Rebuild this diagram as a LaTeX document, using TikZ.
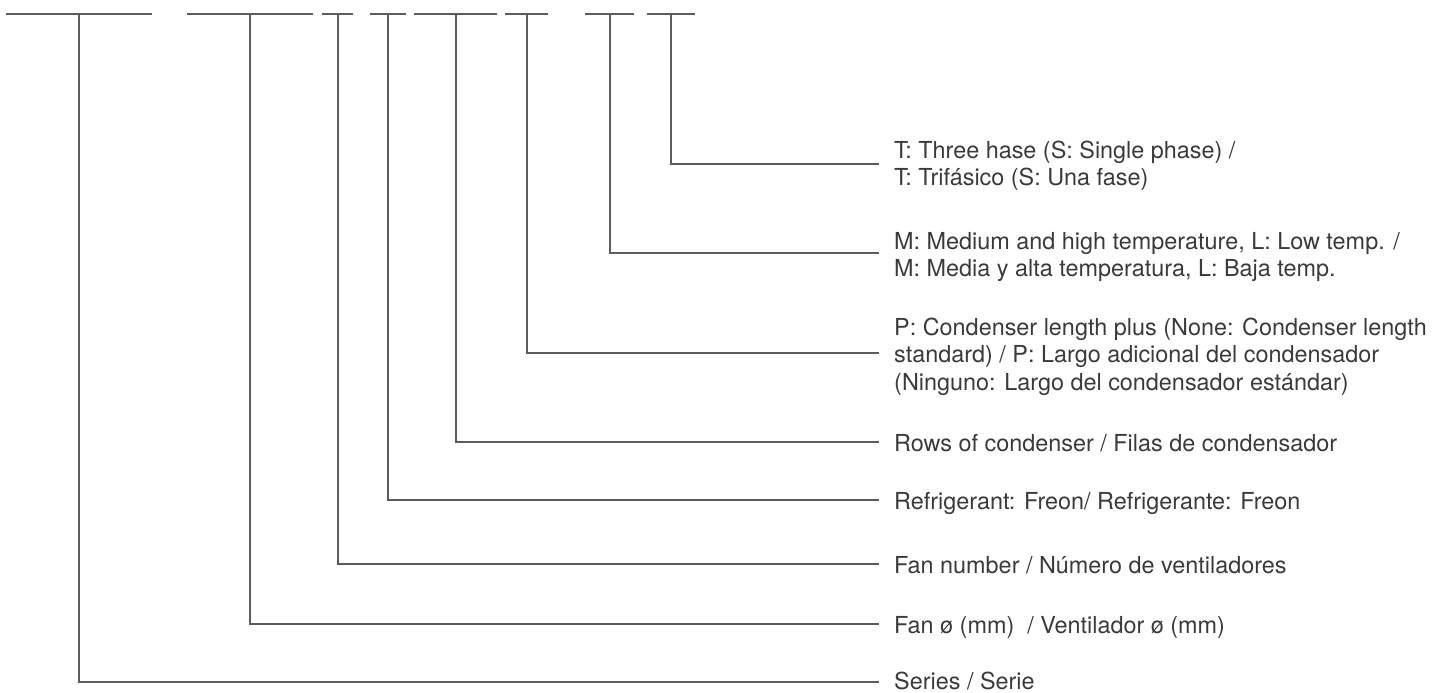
\documentclass[tikz,border=0pt]{standalone}
\usepackage{fontspec}
\setmainfont{TeX Gyre Heros}
\definecolor{linegray}{HTML}{5B5C5F}
\definecolor{textgray}{HTML}{3A3A3C}
\newcommand{\lbltab}[1]{\begin{tabular}[t]{@{}l@{}}#1\end{tabular}}
\begin{document}
\begin{tikzpicture}[x=1pt,y=-1pt,
  bar/.style={draw=linegray,line width=2pt},
  lead/.style={draw=linegray,line width=2pt},
  lbl/.style={anchor=base west,inner sep=0pt,text=textgray,
    font=\fontsize{23.4}{27.5}\selectfont}]
\useasboundingbox (0,0) rectangle (1437,693);

% top bars
\coordinate (b1a) at (6,14);   \coordinate (b1b) at (152,14); \coordinate (b1m) at (79,14);
\coordinate (b2a) at (187,14); \coordinate (b2b) at (313,14); \coordinate (b2m) at (250,14);
\coordinate (b3a) at (322,14); \coordinate (b3b) at (353,14); \coordinate (b3m) at (338,14);
\coordinate (b4a) at (370,14); \coordinate (b4b) at (406,14); \coordinate (b4m) at (388,14);
\coordinate (b5a) at (414,14); \coordinate (b5b) at (497,14); \coordinate (b5m) at (456,14);
\coordinate (b6a) at (505,14); \coordinate (b6b) at (548,14); \coordinate (b6m) at (527,14);
\coordinate (b7a) at (585,14); \coordinate (b7b) at (634,14); \coordinate (b7m) at (610,14);
\coordinate (b8a) at (647,14); \coordinate (b8b) at (695,14); \coordinate (b8m) at (671,14);

\foreach \i in {1,...,8} { \draw[bar] (b\i a) -- (b\i b); }

% leader ends
\coordinate (e1) at (879,682);
\coordinate (e2) at (879,623.5);
\coordinate (e3) at (879,563.5);
\coordinate (e4) at (879,499.5);
\coordinate (e5) at (879,441.5);
\coordinate (e6) at (879,353);
\coordinate (e7) at (879,253);
\coordinate (e8) at (879,163.5);

\foreach \i in {1,...,8} { \draw[lead] (b\i m) |- (e\i); }

% labels
\node[lbl] (l1) at (894,689.5) {Series / Serie};
\node[lbl] (l2) at (894,633.5) {Fan ø (mm)~ / Ventilador ø (mm)};
\node[lbl] (l3) at (894,573.5) {Fan number / Número de ventiladores};
\node[lbl] (l4) at (894,509.5) {Refrigerant: Freon/ Refrigerante: Freon};
\node[lbl] (l5) at (894,451.5) {Rows of condenser / Filas de condensador};
\node[lbl] (l6) at (894,335) {\lbltab{P: Condenser length plus (None: Condenser length\\standard) / P: Largo adicional del condensador\\(Ninguno: Largo del condensador estándar)}};
\node[lbl] (l7) at (894,249) {\lbltab{M: Medium and high temperature, L: Low temp. /\\M: Media y alta temperatura, L: Baja temp.}};
\node[lbl] (l8) at (894,158) {\lbltab{T: Three hase (S: Single phase) /\\T: Trifásico (S: Una fase)}};
\end{tikzpicture}
\end{document}
